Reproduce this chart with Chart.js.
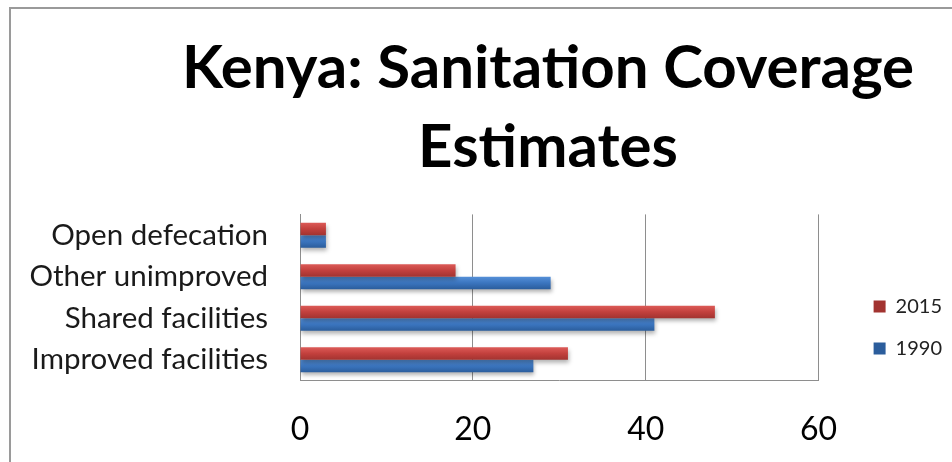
<!DOCTYPE html>
<html>
<head>
<meta charset="utf-8">
<script src="https://cdn.jsdelivr.net/npm/chart.js@4/dist/chart.umd.min.js"></script>
<style>
  html, body { margin: 0; padding: 0; background: #fff; }
  #wrap { position: relative; width: 952px; height: 462px; overflow: hidden; }
  #frame { position: absolute; left: 9px; top: 7px; width: 1000px; height: 520px; border: 2px solid #9a9a9a; }
  #chart { position: absolute; left: 0; top: 0; }
</style>
</head>
<body>
<div id="wrap">
  <div id="frame"></div>
  <canvas id="chart" width="952" height="462"></canvas>
</div>
<script>
// ===== Data =====
const categories = ['Open defecation', 'Other unimproved', 'Shared facilities', 'Improved facilities'];
const seriesNames = ['2015', '1990'];
const values2015 = [3, 18, 48, 31];
const values1990 = [3, 29, 41, 27];
const xTicks = [0, 20, 40, 60];

const titleLines = ['Kenya: Sanitation Coverage', 'Estimates'];
const FONT = 'Lato, "Open Sans", sans-serif';

// red on top, blue below, both with a soft vertical gradient
const palette = [
  { solid: '#C0504D', stops: ['#dc5a57', '#c2403d', '#a23330'] },
  { solid: '#4F81BD', stops: ['#5590d8', '#3b75bf', '#2b5d9c'] }
];
const CAT_PCT = 0.6;

function barFill(ctx) {
  const p = palette[ctx.datasetIndex];
  const y = ctx.chart.scales.y;
  if (typeof ctx.dataIndex !== 'number' || !y || !isFinite(y.getPixelForValue(0))) return p.solid;
  const c = y.getPixelForValue(ctx.dataIndex);
  const band = Math.abs(y.getPixelForValue(1) - y.getPixelForValue(0)) * CAT_PCT;
  const top = ctx.datasetIndex === 0 ? c - band / 2 : c;
  const g = ctx.chart.ctx.createLinearGradient(0, top, 0, top + band / 2);
  g.addColorStop(0, p.stops[0]);
  g.addColorStop(0.5, p.stops[1]);
  g.addColorStop(1, p.stops[2]);
  return g;
}

// drop shadow under the bars
const barShadow = {
  id: 'barShadow',
  beforeDatasetsDraw(chart) {
    const c = chart.ctx;
    c.save();
    c.shadowColor = 'rgba(0,0,0,0.3)';
    c.shadowBlur = 4;
    c.shadowOffsetX = 1;
    c.shadowOffsetY = 3;
  },
  afterDatasetsDraw(chart) {
    chart.ctx.restore();
  }
};

// the title is centred over the right part of the frame, not the whole canvas
const TITLE_LEFT = 144;
const titleShift = {
  id: 'titleShift',
  afterLayout(chart) {
    const t = chart.titleBlock;
    if (!t) return;
    t.left = TITLE_LEFT;
    t.width = t.right - t.left;
  }
};

const gridGray = '#8e8e8e';

new Chart(document.getElementById('chart'), {
  type: 'bar',
  data: {
    labels: categories,
    datasets: [
      { label: seriesNames[0], data: values2015, backgroundColor: barFill },
      { label: seriesNames[1], data: values1990, backgroundColor: barFill }
    ]
  },
  options: {
    indexAxis: 'y',
    responsive: false,
    animation: false,
    devicePixelRatio: 1,
    categoryPercentage: CAT_PCT,
    barPercentage: 1,
    // x ticks reserve their padding twice, so the bottom padding is negative
    layout: { padding: { top: 0, left: 0, right: 0, bottom: -17 } },
    plugins: {
      title: {
        display: true,
        text: titleLines,
        color: '#000',
        font: { family: FONT, size: 60, weight: 'bold', lineHeight: 1.32 },
        padding: { top: 29, bottom: 27 }
      },
      legend: {
        position: 'right',
        align: 'end',
        fullSize: false,
        labels: {
          boxWidth: 12,
          boxHeight: 12,
          padding: 22,
          color: '#222',
          font: { family: FONT, size: 20 }
        }
      },
      tooltip: { enabled: false }
    },
    scales: {
      x: {
        min: xTicks[0],
        max: xTicks[xTicks.length - 1],
        ticks: { stepSize: xTicks[1] - xTicks[0], color: '#000', padding: 30, font: { family: FONT, size: 32 } },
        grid: { color: gridGray, drawTicks: false },
        border: { color: gridGray }
      },
      y: {
        ticks: { autoSkip: false, color: '#1a1a1a', padding: 32, font: { family: FONT, size: 29.5 } },
        grid: { display: false, drawTicks: false },
        border: { display: true, color: gridGray },
        afterFit(scale) { scale.width = 300; }
      },
      // empty spacer axis that pushes the legend away from the plot
      gap: {
        type: 'category',
        position: 'right',
        ticks: { display: false },
        grid: { display: false, drawTicks: false },
        border: { display: false },
        afterFit(scale) { scale.width = 33; }
      }
    }
  },
  plugins: [barShadow, titleShift]
});
</script>
</body>
</html>
